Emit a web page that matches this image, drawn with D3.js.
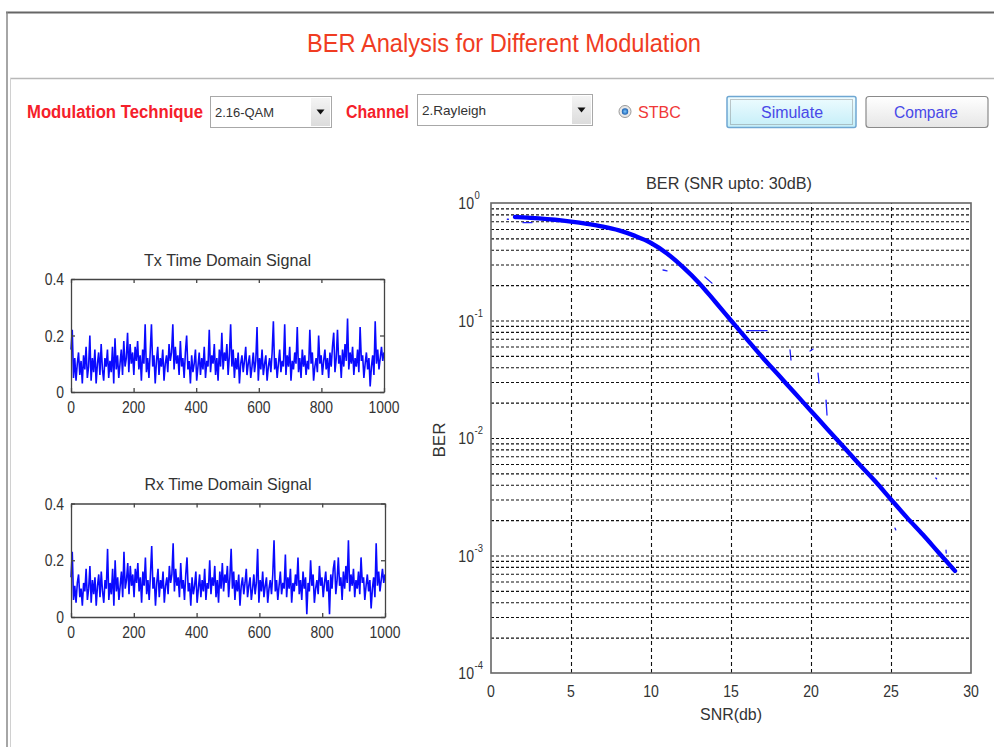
<!DOCTYPE html>
<html><head><meta charset="utf-8">
<script src="https://cdn.jsdelivr.net/npm/d3@7"></script>
<style>
body{margin:0;background:#fff;}
svg{display:block;font-family:"Liberation Sans",Arial,sans-serif;}
</style>
</head><body>
<svg id="c" width="994" height="747"></svg>
<script>
// ---------------- data ----------------
const snr = [1.5,2,3,4,5,6,7,8,9,10,11,12,13,14,15,16,17,18,19,20,21,22,23,24,25,26,27,28,29];
const ber = [0.76,0.755,0.74,0.72,0.695,0.665,0.63,0.585,0.525,0.457,0.372,0.285,0.209,0.145,0.100,0.069,0.048,0.034,0.024,0.017,0.012,0.0085,0.006,0.0043,0.0030,0.0021,0.0015,0.00105,0.00074];
// stray fragments of the BER trace: [snr1, ber1, snr2, ber2]
const berFragments = [
  [1.02,0.727,1.09,0.727],[2.0,0.68,2.56,0.68],[10.75,0.269,11.0,0.264],
  [13.37,0.235,13.81,0.208],[16.0,0.0819,17.25,0.0819],[18.69,0.0561,18.75,0.0461],
  [19.94,0.055,20.13,0.0572],[20.44,0.0357,20.5,0.0294],[20.94,0.021,21.0,0.0157],
  [25.25,0.00171,25.3,0.00165],[27.8,0.00457,27.85,0.0045],[28.44,0.00111,28.45,0.00105]
];
const txSignal = [
0.15,0.22,0.05,0.12,0.04,0.10,0.14,0.06,0.11,0.03,
0.13,0.08,0.16,0.05,0.09,0.20,0.04,0.12,0.07,0.15,
0.03,0.10,0.14,0.06,0.17,0.08,0.04,0.12,0.09,0.15,
0.05,0.11,0.07,0.16,0.03,0.19,0.08,0.13,0.05,0.10,
0.15,0.06,0.18,0.09,0.12,0.21,0.07,0.17,0.10,0.14,
0.06,0.16,0.11,0.18,0.08,0.13,0.04,0.15,0.10,0.24,
0.07,0.12,0.05,0.14,0.24,0.09,0.13,0.03,0.11,0.16,
0.06,0.12,0.09,0.15,0.04,0.10,0.13,0.07,0.17,0.11,
0.14,0.24,0.08,0.16,0.10,0.13,0.06,0.18,0.09,0.12,
0.05,0.14,0.20,0.08,0.11,0.03,0.13,0.07,0.10,0.15,
0.04,0.09,0.14,0.06,0.12,0.08,0.16,0.05,0.11,0.09,
0.22,0.07,0.13,0.10,0.17,0.06,0.12,0.04,0.15,0.09,
0.21,0.08,0.14,0.11,0.17,0.06,0.13,0.24,0.09,0.15,
0.05,0.12,0.08,0.14,0.03,0.10,0.13,0.07,0.11,0.16,
0.06,0.10,0.13,0.05,0.09,0.14,0.07,0.11,0.23,0.04,
0.12,0.08,0.15,0.06,0.10,0.13,0.04,0.09,0.12,0.07,
0.14,0.25,0.08,0.12,0.05,0.10,0.15,0.07,0.11,0.09,
0.24,0.06,0.13,0.09,0.16,0.04,0.11,0.08,0.14,0.10,
0.23,0.07,0.12,0.05,0.15,0.09,0.13,0.06,0.11,0.08,
0.22,0.10,0.14,0.04,0.09,0.12,0.07,0.20,0.10,0.13,
0.06,0.11,0.15,0.08,0.12,0.05,0.14,0.09,0.16,0.21,
0.07,0.12,0.22,0.10,0.13,0.05,0.15,0.09,0.17,0.11,
0.26,0.08,0.14,0.10,0.16,0.06,0.12,0.09,0.15,0.07,
0.23,0.11,0.13,0.05,0.10,0.14,0.08,0.12,0.02,0.09,
0.13,0.06,0.25,0.10,0.15,0.08,0.12,0.16,0.11,0.14
];
const rxSignal = [
0.14,0.23,0.06,0.11,0.05,0.12,0.15,0.07,0.10,0.04,
0.12,0.09,0.17,0.06,0.10,0.18,0.05,0.13,0.08,0.14,
0.04,0.11,0.15,0.07,0.16,0.09,0.05,0.13,0.10,0.24,
0.06,0.12,0.08,0.17,0.04,0.20,0.09,0.14,0.06,0.11,
0.16,0.07,0.23,0.10,0.13,0.19,0.08,0.18,0.11,0.15,
0.07,0.17,0.12,0.19,0.09,0.14,0.05,0.16,0.11,0.21,
0.08,0.13,0.06,0.15,0.25,0.10,0.14,0.04,0.12,0.17,
0.07,0.13,0.10,0.16,0.05,0.11,0.14,0.08,0.18,0.12,
0.15,0.26,0.09,0.17,0.11,0.14,0.07,0.19,0.10,0.13,
0.06,0.15,0.21,0.09,0.12,0.04,0.14,0.08,0.11,0.16,
0.05,0.10,0.15,0.07,0.13,0.09,0.17,0.06,0.12,0.10,
0.20,0.08,0.14,0.11,0.18,0.07,0.13,0.05,0.16,0.10,
0.19,0.09,0.15,0.12,0.18,0.07,0.14,0.24,0.10,0.16,
0.06,0.13,0.09,0.15,0.04,0.11,0.14,0.08,0.12,0.17,
0.07,0.11,0.14,0.06,0.10,0.15,0.08,0.12,0.24,0.05,
0.13,0.09,0.16,0.07,0.11,0.14,0.05,0.10,0.13,0.08,
0.15,0.27,0.09,0.13,0.06,0.11,0.16,0.08,0.12,0.10,
0.22,0.07,0.14,0.10,0.17,0.05,0.12,0.09,0.15,0.11,
0.21,0.08,0.13,0.06,0.16,0.10,0.14,0.01,0.12,0.09,
0.20,0.11,0.15,0.05,0.10,0.13,0.08,0.18,0.11,0.14,
0.07,0.12,0.16,0.09,0.13,0.01,0.15,0.10,0.17,0.20,
0.08,0.13,0.21,0.11,0.14,0.06,0.16,0.10,0.18,0.12,
0.27,0.09,0.15,0.11,0.17,0.07,0.13,0.10,0.16,0.08,
0.21,0.12,0.14,0.06,0.11,0.15,0.09,0.13,0.03,0.10,
0.14,0.07,0.26,0.11,0.16,0.09,0.13,0.17,0.12,0.15
];
const signalXTicks = [0,200,400,600,800,1000];
const signalYTicks = [0,0.2,0.4];
const snrTicks = [0,5,10,15,20,25,30];
const berExponents = [0,-1,-2,-3,-4];

const mainTitle = "BER Analysis for Different Modulation";
const berTitle = "BER (SNR upto: 30dB)";

// ---------------- helpers ----------------
const svg = d3.select("#c");
function txt(g, x, y, s, o) {
  const sx = o.sx || 1;
  const t = g.append("text")
    .attr("transform", `translate(${x},${y}) scale(${sx},1)`)
    .attr("font-size", o.size)
    .attr("text-anchor", o.anchor || "start")
    .attr("fill", o.fill || "#333")
    .attr("font-weight", o.weight || "normal")
    .text(s);
  if (o.len) t.attr("textLength", o.len / sx).attr("lengthAdjust", "spacingAndGlyphs");
  return t;
}

// ---------------- frame ----------------
svg.append("line").attr("x1",6).attr("x2",994).attr("y1",12.5).attr("y2",12.5).attr("stroke","#666").attr("stroke-width",2);
svg.append("line").attr("x1",7).attr("x2",7).attr("y1",12).attr("y2",747).attr("stroke","#888").attr("stroke-width",1.5);
svg.append("line").attr("x1",10).attr("x2",994).attr("y1",78.5).attr("y2",78.5).attr("stroke","#b8b8b8").attr("stroke-width",1.5);
svg.append("line").attr("x1",10.5).attr("x2",10.5).attr("y1",78).attr("y2",747).attr("stroke","#d0d0d0").attr("stroke-width",1);

txt(svg, 504, 51.5, mainTitle, {size: 25, anchor: "middle", fill: "#f03c22", len: 394});

// ---------------- controls ----------------
const defs = svg.append("defs");
const g1 = defs.append("linearGradient").attr("id","simg").attr("x1",0).attr("x2",0).attr("y1",0).attr("y2",1);
g1.append("stop").attr("offset","0").attr("stop-color","#effcff");
g1.append("stop").attr("offset","1").attr("stop-color","#c4eef8");
const g2 = defs.append("linearGradient").attr("id","cmpg").attr("x1",0).attr("x2",0).attr("y1",0).attr("y2",1);
g2.append("stop").attr("offset","0").attr("stop-color","#ffffff");
g2.append("stop").attr("offset","1").attr("stop-color","#e6e6e6");
const g3 = defs.append("linearGradient").attr("id","arrg").attr("x1",0).attr("x2",0).attr("y1",0).attr("y2",1);
g3.append("stop").attr("offset","0").attr("stop-color","#f4f4f4");
g3.append("stop").attr("offset","1").attr("stop-color","#dcdcdc");
const g4 = defs.append("radialGradient").attr("id","radg");
g4.append("stop").attr("offset","0").attr("stop-color","#7ec8ff");
g4.append("stop").attr("offset","1").attr("stop-color","#1a5fb0");

const ctrl = svg.append("g");
txt(ctrl, 27, 117.5, "Modulation Technique", {size: 18, weight: "bold", fill: "#f5202a", len: 176});
txt(ctrl, 346, 117.5, "Channel", {size: 18, weight: "bold", fill: "#f5202a", len: 63});

function dropdown(x, y, w, h, label, lw) {
  ctrl.append("rect").attr("x",x+0.5).attr("y",y+0.5).attr("width",w).attr("height",h).attr("fill","#fff").attr("stroke","#a8a8a8");
  ctrl.append("rect").attr("x",x+w-20).attr("y",y+2).attr("width",19).attr("height",h-3).attr("fill","url(#arrg)");
  const ax = x + w - 10.5, ay = y + h/2;
  ctrl.append("path").attr("d",`M${ax-4},${ay-2}L${ax+4},${ay-2}L${ax},${ay+3}Z`).attr("fill","#111");
  txt(ctrl, x+5, y+h/2+5, label, {size: 13, fill: "#333", len: lw});
}
dropdown(210, 96, 121, 31, "2.16-QAM", 59);
dropdown(417, 94, 175, 31, "2.Rayleigh", 64);

ctrl.append("circle").attr("cx",625).attr("cy",111.5).attr("r",6).attr("fill","#e8e8e8").attr("stroke","#999");
ctrl.append("circle").attr("cx",625).attr("cy",111.5).attr("r",3.2).attr("fill","url(#radg)");
txt(ctrl, 638, 117.5, "STBC", {size: 17, fill: "#f03838", len: 43});

ctrl.append("rect").attr("x",727).attr("y",96.5).attr("width",129).attr("height",31).attr("rx",2).attr("fill","url(#simg)").attr("stroke","#6fa7d2").attr("stroke-width",1.5);
ctrl.append("rect").attr("x",730.5).attr("y",99.5).attr("width",122).attr("height",25).attr("fill","none").attr("stroke","#777").attr("stroke-width",0.8).attr("stroke-dasharray","1,1");
txt(ctrl, 792, 118, "Simulate", {size: 16, anchor: "middle", fill: "#4848e8", len: 62});
ctrl.append("rect").attr("x",866).attr("y",96.5).attr("width",122).attr("height",31).attr("rx",3).attr("fill","url(#cmpg)").attr("stroke","#8a8a8a").attr("stroke-width",1.2);
txt(ctrl, 926, 118, "Compare", {size: 16, anchor: "middle", fill: "#4848e8", len: 64});

// ---------------- signal plots ----------------
function signalPlot(data, title, left, right, top, bottom) {
  const g = svg.append("g");
  const x = d3.scaleLinear().domain([0,1000]).range([left,right]);
  const y = d3.scaleLinear().domain([0,0.4]).range([bottom,top]);
  const n = data.length;
  const line = d3.line().x((d,i) => x(i*1000/(n-1))).y(d => y(d));
  g.append("path").datum(data).attr("d", line).attr("fill","none").attr("stroke","#0a0aff").attr("stroke-width",1.6).attr("stroke-linejoin","bevel");
  // axes (ticks inside, box)
  g.append("g").attr("transform",`translate(0,${bottom})`).call(d3.axisBottom(x).tickValues(signalXTicks).tickSizeInner(-4).tickSizeOuter(0).tickFormat(""));
  g.append("g").attr("transform",`translate(0,${top})`).call(d3.axisTop(x).tickValues(signalXTicks).tickSizeInner(-4).tickSizeOuter(0).tickFormat(""));
  g.append("g").attr("transform",`translate(${left},0)`).call(d3.axisLeft(y).tickValues(signalYTicks).tickSizeInner(-4).tickSizeOuter(0).tickFormat(""));
  g.append("g").attr("transform",`translate(${right},0)`).call(d3.axisRight(y).tickValues(signalYTicks).tickSizeInner(-4).tickSizeOuter(0).tickFormat(""));
  g.selectAll(".domain, .tick line").attr("stroke","#444").attr("stroke-width",1.3);
  signalXTicks.forEach(v => txt(g, x(v), bottom+21, String(v), {size: 17, anchor: "middle", sx: 0.82}));
  signalYTicks.forEach(v => txt(g, left-7, y(v)+6, String(v), {size: 17, anchor: "end", sx: 0.82}));
  txt(g, (left+right)/2, top-13.5, title, {size: 17, anchor: "middle", len: 167});
}
signalPlot(txSignal, "Tx Time Domain Signal", 71, 384, 279, 392);
signalPlot(rxSignal, "Rx Time Domain Signal", 71, 385, 503.5, 617);

// ---------------- BER plot ----------------
const bg = svg.append("g");
const L = 491, R = 971, T = 203, B = 673;
const xs = d3.scaleLinear().domain([0,30]).range([L,R]);
const ys = d3.scaleLog().domain([1e-4,1]).range([B,T]);

// grid
const minorVals = [];
berExponents.slice(1).forEach(e => { for (let m = 1; m <= 9; m++) { const v = m*Math.pow(10,e); if (v > 1e-4 + 1e-12) minorVals.push(v); } });
bg.append("g").attr("transform",`translate(${L},0)`)
  .call(d3.axisLeft(ys).tickValues(minorVals).tickSizeInner(-(R-L)).tickSizeOuter(0).tickFormat(""))
  .call(s => s.select(".domain").remove())
  .selectAll(".tick line").attr("stroke","#111").attr("stroke-width",1.1).attr("stroke-dasharray","3,2");
bg.append("g").attr("transform",`translate(0,${B})`)
  .call(d3.axisBottom(xs).tickValues(snrTicks.slice(1,-1)).tickSizeInner(-(B-T)).tickSizeOuter(0).tickFormat(""))
  .call(s => s.select(".domain").remove())
  .selectAll(".tick line").attr("stroke","#111").attr("stroke-width",1.1).attr("stroke-dasharray","4,3");

// curve
const curve = d3.line().x((d,i) => xs(snr[i])).y(d => ys(d)).curve(d3.curveMonotoneX);
bg.append("path").datum(ber).attr("d", curve).attr("fill","none").attr("stroke","#0000ff").attr("stroke-width",4.4).attr("stroke-linecap","round");
bg.selectAll(".frag").data(berFragments).enter().append("line").attr("class","frag")
  .attr("x1",d=>xs(d[0])).attr("y1",d=>ys(d[1])).attr("x2",d=>xs(d[2])).attr("y2",d=>ys(d[3]))
  .attr("stroke","#2020ff").attr("stroke-width",1.3).attr("stroke-linecap","round");

// box
bg.append("rect").attr("x",L).attr("y",T).attr("width",R-L).attr("height",B-T).attr("fill","none").attr("stroke","#666").attr("stroke-width",1.6);

// tick labels
snrTicks.forEach(v => txt(bg, xs(v), 697, String(v), {size: 16, anchor: "middle", sx: 0.88}));
berExponents.forEach(e => {
  const yy = ys(Math.pow(10,e));
  txt(bg, 474, yy+6, "10", {size: 16, anchor: "end", sx: 0.88});
  txt(bg, 474.5, yy-4, String(e), {size: 10.5, anchor: "start", sx: 0.9});
});
txt(bg, 731, 720, "SNR(db)", {size: 17, anchor: "middle", len: 62});
bg.append("text").attr("transform","translate(445,440) rotate(-90)").attr("font-size",17).attr("text-anchor","middle").attr("fill","#333").attr("textLength",35).attr("lengthAdjust","spacingAndGlyphs").text("BER");
txt(bg, 729, 188.5, berTitle, {size: 17, anchor: "middle", len: 166});
</script>
</body></html>
